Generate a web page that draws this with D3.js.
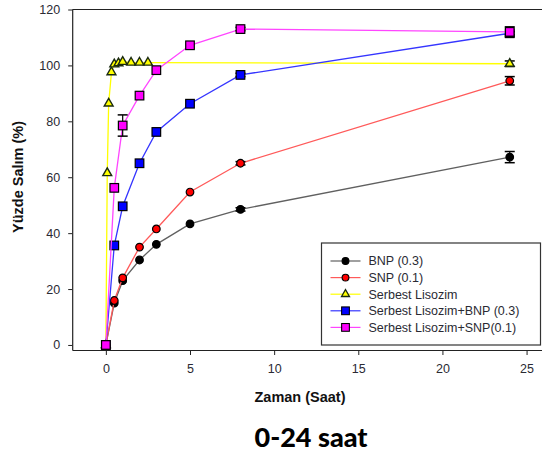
<!DOCTYPE html>
<html>
<head>
<meta charset="utf-8">
<script src="https://cdn.jsdelivr.net/npm/d3@7"></script>
<style>
  html, body { margin: 0; padding: 0; background: #fff; }
  svg { display: block; }
</style>
</head>
<body>
<svg id="chart" width="542" height="454"></svg>
<script>
// ---- data ----
const timesMain = [0, 0.5, 1, 2, 3, 5, 8, 24];
const timesFree = [0, 0.083, 0.167, 0.333, 0.5, 0.75, 1, 1.5, 2, 2.5, 24];

const bnp      = [0, 15, 23, 30.4, 36, 43.3, 48.5, 67.2];
const bnpErr   = [0, 0, 0, 0, 0, 0, 0.6, 2.0];
const snp      = [0, 15.9, 24, 35, 41.5, 54.7, 65, 94.5];
const snpErr   = [0, 0, 0, 0, 0, 0, 0.6, 1.5];
const freeLys  = [0, 61.5, 86.4, 97.6, 100.4, 100.8, 101.3, 101, 101, 101, 100.6];
const freeErr  = [0, 0, 0, 0, 0, 0, 0, 0, 0, 0, 1.0];
const lysBnp   = [0, 35.6, 49.6, 65, 76.2, 86.3, 96.6, 111.5];
const lysBnpErr= [0, 0, 0, 0, 0, 0, 0.6, 0.6];
const lysSnp   = [0, 56.2, 78.5, 89.2, 98.3, 107.2, 113, 112];
const lysSnpErr= [0, 0, 3.8, 0, 0, 0, 0.6, 1.8];

const xTicks = [0, 5, 10, 15, 20, 25];
const yTicks = [0, 20, 40, 60, 80, 100, 120];

const seriesNames = ["BNP (0.3)", "SNP (0.1)", "Serbest Lisozim", "Serbest Lisozim+BNP (0.3)", "Serbest Lisozim+SNP(0.1)"];

const xLabel = "Zaman (Saat)";
const yLabel = "Yüzde Salım (%)";
const title = "0-24 saat";

// ---- styles ----
const series = [
  { name: seriesNames[0], t: timesMain, v: bnp, e: bnpErr, line: "#606060", fill: "#000000", shape: "circle" },
  { name: seriesNames[1], t: timesMain, v: snp, e: snpErr, line: "#ff5a5a", fill: "#ff0000", shape: "circle" },
  { name: seriesNames[2], t: timesFree, v: freeLys, e: freeErr, line: "#ffff00", fill: "#ffff00", shape: "triangle" },
  { name: seriesNames[3], t: timesMain, v: lysBnp, e: lysBnpErr, line: "#3535ff", fill: "#0000ff", shape: "square" },
  { name: seriesNames[4], t: timesMain, v: lysSnp, e: lysSnpErr, line: "#ff45ff", fill: "#ff00ff", shape: "square" }
];

const svg = d3.select("#chart");
const x = d3.scaleLinear().domain([-2, 26]).range([72.2, 543.4]);
const y = d3.scaleLinear().domain([-1.8, 120]).range([350, 9.5]);

const fontAx = "Arial, 'Liberation Sans', sans-serif";

// axes
const gx = svg.append("g").attr("transform", `translate(0,${y(-1.8)})`)
  .call(d3.axisBottom(x).tickValues(xTicks).tickSize(5).tickSizeOuter(0).tickPadding(9));
const gy = svg.append("g").attr("transform", `translate(${x(-2)},0)`)
  .call(d3.axisLeft(y).tickValues(yTicks).tickSize(4).tickSizeOuter(0).tickPadding(8));
[gx, gy].forEach(g => {
  g.selectAll("path.domain").attr("stroke", "#222").attr("stroke-width", 1.2);
  g.selectAll(".tick line").attr("stroke", "#222");
  g.selectAll(".tick text").attr("font-family", fontAx).attr("font-size", 12.5).attr("fill", "#2a2a33");
});
// top frame line
svg.append("line")
  .attr("x1", x(-2)).attr("x2", x(26)).attr("y1", y(120)).attr("y2", y(120))
  .attr("stroke", "#222").attr("stroke-width", 1.2);

function symbol(sel, shape, fill) {
  if (shape === "square") {
    sel.append("rect").attr("x", -4.3).attr("y", -4.3).attr("width", 8.6).attr("height", 8.6)
      .attr("fill", fill).attr("stroke", "#000").attr("stroke-width", 1.2);
  } else if (shape === "circle") {
    sel.append("circle").attr("r", 3.8).attr("fill", fill).attr("stroke", "#000").attr("stroke-width", 1.2);
  } else {
    sel.append("path").attr("d", d3.symbol(d3.symbolTriangle, 34)())
      .attr("fill", fill).attr("stroke", "#1a2a10").attr("stroke-width", 1.4);
  }
}

const plot = svg.append("g");
series.forEach(s => {
  const pts = s.t.map((t, i) => ({ t, v: s.v[i], e: s.e[i] }));
  const g = plot.append("g");
  g.append("path").datum(pts)
    .attr("d", d3.line().x(d => x(d.t)).y(d => y(d.v)))
    .attr("fill", "none").attr("stroke", s.line).attr("stroke-width", 1.3);
  const eb = g.selectAll("g.eb").data(pts.filter(d => d.e > 0)).join("g")
    .attr("transform", d => `translate(${x(d.t)},0)`);
  eb.append("line").attr("x1", 0).attr("x2", 0)
    .attr("y1", d => y(d.v - d.e)).attr("y2", d => y(d.v + d.e)).attr("stroke", "#000").attr("stroke-width", 1.2);
  eb.append("line").attr("x1", -5).attr("x2", 5)
    .attr("y1", d => y(d.v - d.e)).attr("y2", d => y(d.v - d.e)).attr("stroke", "#000").attr("stroke-width", 1.5);
  eb.append("line").attr("x1", -5).attr("x2", 5)
    .attr("y1", d => y(d.v + d.e)).attr("y2", d => y(d.v + d.e)).attr("stroke", "#000").attr("stroke-width", 1.5);
  const m = g.selectAll("g.m").data(pts).join("g")
    .attr("transform", d => `translate(${x(d.t)},${y(d.v)})`);
  symbol(m, s.shape, s.fill);
});

// legend
const lg = svg.append("g").attr("transform", "translate(321.5,243)");
lg.append("rect").attr("width", 219).attr("height", 102)
  .attr("fill", "#fff").attr("stroke", "#333").attr("stroke-width", 1.2);
series.forEach((s, i) => {
  const row = lg.append("g").attr("transform", `translate(0,${18 + i * 16.6})`);
  row.append("line").attr("x1", 9).attr("x2", 39).attr("y1", 0).attr("y2", 0)
    .attr("stroke", s.line).attr("stroke-width", 1.2);
  const mk = row.append("g").attr("transform", "translate(24,0) scale(0.9)");
  symbol(mk, s.shape, s.fill);
  row.append("text").attr("x", 47).attr("y", 0).attr("dy", "0.35em")
    .attr("font-family", fontAx).attr("font-size", 12.5).attr("fill", "#2a2a33")
    .text(s.name);
});

// axis labels
svg.append("text").attr("x", 300).attr("y", 397).attr("dy", "0.35em")
  .attr("text-anchor", "middle").attr("font-family", fontAx).attr("font-weight", "bold")
  .attr("font-size", 14.5).attr("fill", "#111").text(xLabel);
svg.append("text").attr("transform", "translate(18,177) rotate(-90)").attr("dy", "0.35em")
  .attr("text-anchor", "middle").attr("font-family", fontAx).attr("font-weight", "bold")
  .attr("font-size", 14.5).attr("fill", "#111").text(yLabel);
svg.append("text").attr("x", 311).attr("y", 438).attr("dy", "0.35em")
  .attr("text-anchor", "middle").attr("font-family", "Lato, 'Open Sans', sans-serif").attr("font-weight", "900")
  .attr("font-size", 27).attr("fill", "#000").text(title);
</script>
</body>
</html>
